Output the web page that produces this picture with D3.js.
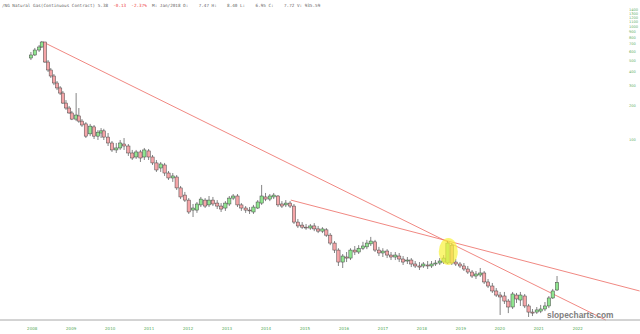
<!DOCTYPE html>
<html><head><meta charset="utf-8">
<script src="https://cdn.jsdelivr.net/npm/d3@7/dist/d3.min.js"></script>
<style>html,body{margin:0;padding:0;background:#fff;}svg{display:block;}</style>
</head><body>
<svg id="c" width="640" height="334"></svg>
<script>
// ---- data ----
const dates = [2007.98,2008.08,2008.19,2008.26,2008.34,2008.42,2008.49,2008.57,2008.65,2008.73,2008.80,2008.88,2008.96,2009.03,2009.14,2009.21,2009.29,2009.39,2009.50,2009.60,2009.70,2009.78,2009.85,
2009.96,2010.06,2010.17,2010.27,2010.37,2010.48,2010.58,2010.68,2010.79,2010.89,2011.00,2011.10,2011.20,2011.31,2011.41,2011.51,2011.62,2011.72,2011.82,2011.93,
2012.03,2012.14,2012.24,2012.34,2012.45,2012.55,2012.65,2012.76,2012.86,2012.97,2013.07,2013.17,2013.28,2013.38,2013.49,2013.59,2013.69,2013.80,2013.90,
2014.00,2014.11,2014.21,2014.32,2014.42,2014.52,2014.63,2014.73,2014.83,2014.94,2015.04,2015.15,2015.25,2015.35,2015.46,2015.56,2015.66,2015.77,2015.87,2015.98,
2016.08,2016.18,2016.29,2016.39,2016.50,2016.60,2016.70,2016.81,2016.91,2017.01,2017.12,2017.22,2017.33,2017.43,2017.53,2017.64,2017.74,2017.84,2017.95,
2018.05,2018.16,2018.26,2018.36,2018.47,2018.57,2018.67,2018.78,2018.88,2018.99,2019.09,2019.19,2019.30,2019.40,2019.51,2019.61,2019.71,2019.82,2019.92,
2020.02,2020.13,2020.23,2020.34,2020.44,2020.54,2020.65,2020.75,2020.85,2020.96,2021.06,2021.17,2021.27,2021.37,2021.48];
const opens = [521,554,613,652,722,480,408,361,313,283,255,208,188,170,150,160,144,136,111,128,106,113,118,
104,92.2,80.0,83.3,90.3,86.7,75.2,69.3,76.8,69.3,78.4,69.3,61.4,55.4,58.9,50.0,45.2,46.1,36.9,31.9,
28.8,23.5,23.5,26.1,28.8,26.1,28.8,27.1,25.5,24.5,26.6,30.0,31.3,26.1,24.5,23.5,22.6,24.5,27.1,
30.7,29.4,30.7,31.3,26.6,26.1,27.1,25.5,18.4,17.3,16.6,16.3,17.0,16.0,15.3,15.7,14.1,12.0,10.4,
8.15,9.03,8.84,10.4,10.0,10.8,11.1,11.8,12.3,10.4,9.80,10.2,9.40,9.03,9.21,8.67,8.32,8.49,7.83,
7.52,7.52,7.67,7.52,7.83,7.99,8.15,7.99,11.5,8.15,7.83,7.52,7.07,6.65,6.13,6.26,6.52,5.43,
5.00,4.52,4.16,4.08,3.68,3.26,4.16,3.76,4.08,3.33,2.94,2.94,3.00,3.13,3.33,3.92,4.61];
const highs = [589,639,679,737,722,500,425,376,326,294,266,221,196,177,255,188,150,141,136,133,120,125,123,
113,96.0,92.2,98,102,90.3,80.0,80.0,80.0,83.3,81.6,72.2,65.2,62.6,61.4,52.1,50.0,48.0,38.4,34.0,
30.0,26.6,27.7,30.7,30.0,31.3,30.7,28.8,27.1,28.2,31.3,32.6,32.6,27.1,25.5,25.0,26.1,28.8,39.2,
33.3,32.6,33.3,31.9,28.2,28.8,28.2,26.6,19.6,18.4,17.7,17.7,18.0,17.0,16.6,16.3,14.7,12.5,10.8,
9.60,10.0,10.8,11.3,11.5,12.3,12.8,13.6,12.8,11.1,10.8,10.6,10.0,10.0,9.80,9.21,9.03,8.84,8.32,
8.15,8.15,8.32,8.32,8.49,8.84,9.40,12.5,12.0,8.67,8.15,7.99,7.52,6.93,6.79,7.22,6.79,5.77,
5.32,4.80,4.43,4.43,3.84,4.43,4.34,4.43,4.25,3.47,3.13,3.26,3.40,3.61,4.08,4.71,6.13];
const lows = [500,543,589,639,471,392,347,300,271,245,204,181,167,147,144,139,128,102,106,100,98,102,98,
86.7,76.8,75.2,80.0,80.0,70.8,65.2,66.6,62.6,65.2,65.2,58.9,51.1,51.1,47.1,43.4,41.7,35.4,29.4,27.7,
21.7,20.4,22.2,25.0,24.5,25.0,25.5,24.0,22.6,23.1,25.5,28.8,25.0,23.1,22.2,21.7,21.7,24.0,26.1,
28.2,28.2,29.4,25.0,24.5,25.0,24.5,17.7,16.3,16.0,15.7,15.7,15.3,14.7,14.7,13.6,11.5,9.80,7.52,
7.22,8.15,8.49,9.40,9.60,10.4,10.6,11.3,10.0,9.21,9.03,8.84,8.49,8.49,8.15,7.67,7.83,7.36,7.22,
6.93,7.22,7.07,7.22,7.52,7.67,7.83,7.83,7.67,7.52,7.22,6.79,6.39,5.89,5.77,6.01,5.21,4.80,
4.34,4.00,2.77,3.47,2.88,3.13,3.54,3.33,3.19,2.66,2.71,2.83,2.88,3.00,3.19,3.84,4.52];
const closes = [554,613,652,722,480,408,361,313,283,255,208,188,170,150,163,144,133,106,130,106,115,118,104,
92.2,80.0,83.3,92.2,86.7,75.2,67.9,76.8,67.9,80.0,69.3,61.4,53.2,60.1,50.0,45.2,47.1,36.9,30.7,28.8,
22.6,24.5,26.6,29.4,25.5,28.8,26.6,25.5,24.0,27.1,30.0,31.3,26.1,24.5,23.5,23.1,25.0,27.7,31.3,
29.4,31.3,31.9,26.1,25.5,27.1,25.5,18.4,17.0,16.6,16.3,17.0,16.0,15.3,16.0,14.1,12.0,10.4,8.15,
9.21,8.84,10.4,10.0,10.8,11.3,12.0,12.5,10.4,9.80,10.2,9.40,9.03,9.40,8.67,8.15,8.49,7.83,7.52,
7.36,7.83,7.52,7.83,7.99,8.32,8.84,12.0,7.99,7.83,7.52,7.07,6.65,6.13,6.39,6.52,5.43,5.00,
4.52,4.16,4.00,3.68,3.26,4.25,3.84,4.16,3.33,2.94,2.88,3.07,3.13,3.33,3.92,4.52,5.38];

const yearTicks = [2008,2009,2010,2011,2012,2013,2014,2015,2016,2017,2018,2019,2020,2021,2022];
const priceTicks = [100,200,300,400,500,600,700,800,900,1000,1100,1200,1300,1400];
// trendlines: [date, value] start and end
const trendA = [[2008.29, 722], [2022.73, 2.5]];
const trendB = [[2014.65, 28.8], [2023.60, 4.52]];
const highlight = [2018.69, 10.1];
const titleMain = "/NG Natural Gas(Continuous Contract) 5.38";
const titleChange = "  -0.13  -2.37%";
const titleBar = "  M: Jan/2018 O:    7.47 H:    8.40 L:    6.95 C:    7.72 V: 935.59";

// ---- chart ----
const svg = d3.select("#c");
svg.append("rect").attr("width",640).attr("height",334).attr("fill","#fff");

const x = d3.scaleLinear().domain([2008, 2022]).range([31.7, 577.3]);
const y = d3.scaleLog().domain([1, 1000]).range([365, 26]);

const candles = dates.map((d,i)=>({d, o:opens[i], h:highs[i], l:lows[i], c:closes[i]}));
const cw = 3.3;

// trendlines
const line = d3.line().x(p=>x(p[0])).y(p=>y(p[1]));
[trendA, trendB].forEach(t=>{
  svg.append("path").attr("d", line(t)).attr("fill","none")
    .attr("stroke","#ec6a62").attr("stroke-width",0.8);
});

const g = svg.append("g");
g.selectAll("line.wick").data(candles).join("line")
  .attr("x1", d=>x(d.d)).attr("x2", d=>x(d.d))
  .attr("y1", d=>y(d.h)).attr("y2", d=>y(d.l))
  .attr("stroke","#333").attr("stroke-width",0.6);
g.selectAll("rect.body").data(candles).join("rect")
  .attr("x", d=>x(d.d)-cw/2)
  .attr("y", d=>y(Math.max(d.o,d.c)))
  .attr("width", cw)
  .attr("height", d=>Math.max(0.8, Math.abs(y(d.o)-y(d.c))))
  .attr("fill", d=>d.c>=d.o ? "#8fe58f" : "#f5a5a8")
  .attr("stroke","#444").attr("stroke-width",0.5);

// highlight
svg.append("ellipse").attr("cx", x(highlight[0])).attr("cy", y(highlight[1]))
  .attr("rx", 9.5).attr("ry", 13.5).attr("fill","#f8f23a").attr("opacity",0.7);

// x axis
svg.append("line").attr("x1",0).attr("x2",640).attr("y1",320).attr("y2",320)
  .attr("stroke","#a8a8a8").attr("stroke-width",1);
const xa = svg.append("g").attr("transform","translate(0,324)")
  .call(d3.axisBottom(x).tickValues(yearTicks).tickSize(0).tickFormat(d3.format("d")));
xa.select(".domain").remove();
xa.selectAll("text").attr("fill","#55aa55").attr("font-size","4px")
  .attr("font-family","DejaVu Sans, sans-serif").attr("dy","0.71em");

// y axis (right)
const ya = svg.append("g").attr("transform","translate(628,0)")
  .call(d3.axisRight(y).tickValues(priceTicks).tickSize(0).tickFormat(d3.format("d")));
ya.select(".domain").remove();
ya.selectAll("text").attr("fill","#66b066").attr("font-size","3.6px")
  .attr("font-family","DejaVu Sans, sans-serif").attr("x",1);

// title
const t = svg.append("text").attr("x",2).attr("y",6.5)
  .attr("font-family","DejaVu Sans Mono, monospace").attr("font-size","4.3px")
  .style("white-space","pre").attr("fill","#666");
t.append("tspan").text(titleMain);
t.append("tspan").attr("fill","#ee4444").text(titleChange);
t.append("tspan").text(titleBar);

// watermark
svg.append("text").attr("x",547).attr("y",317.5)
  .attr("font-family","Liberation Sans, Arial, sans-serif").attr("font-weight","bold")
  .attr("font-size","8.4px").attr("fill","#808080")
  .text("slopecharts.com");
</script>
</body></html>
